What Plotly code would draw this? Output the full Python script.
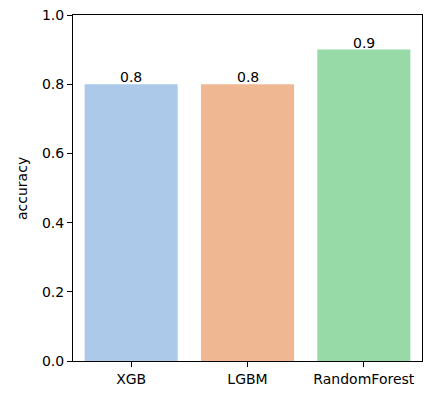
import plotly.graph_objects as go

models = ["XGB", "LGBM", "RandomForest"]
accuracy = [0.8, 0.8, 0.9]
colors = ["#acc9ea", "#efb792", "#98daa7"]
y_ticks = [0.0, 0.2, 0.4, 0.6, 0.8, 1.0]

W, H = 439, 396
ml, mr, mt, mb = 73, 17, 15, 35
font = "DejaVu Sans"

fig = go.Figure()
fig.add_trace(go.Bar(
    x=list(range(len(models))), y=accuracy,
    marker=dict(color=colors, line=dict(width=0)),
    width=0.8, showlegend=False, hoverinfo="skip",
))

annotations = []
for i, v in enumerate(accuracy):
    annotations.append(dict(
        x=i, y=v, xref="x", yref="y", text=str(v), showarrow=False,
        xanchor="center", yanchor="bottom", yshift=-3,
        font=dict(family=font, size=14, color="#000000"),
    ))
plot_w = W - ml - mr
annotations.append(dict(
    x=(22 - ml) / plot_w, y=0.5, xref="paper", yref="paper",
    text="accuracy", showarrow=False, textangle=-90,
    xanchor="center", yanchor="middle",
    font=dict(family=font, size=14, color="#000000"),
))

fig.update_layout(
    width=W, height=H, autosize=False,
    margin=dict(l=ml, r=mr, t=mt, b=mb, pad=0, autoexpand=False),
    paper_bgcolor="white", plot_bgcolor="white",
    font=dict(family=font, size=14, color="#000000"),
    annotations=annotations,
    bargap=0.2,
)
fig.update_xaxes(
    range=[-0.5, len(models) - 0.5], automargin=False,
    tickmode="array", tickvals=list(range(len(models))), ticktext=models,
    showline=True, linecolor="#000000", linewidth=1, mirror=True,
    ticks="outside", ticklen=5, tickwidth=1, tickcolor="#000000",
    showgrid=False, zeroline=False,
    tickfont=dict(family=font, size=14, color="#000000"),
)
fig.update_yaxes(
    range=[0, 1.0], automargin=False,
    tickmode="array", tickvals=y_ticks, ticktext=[f"{t:.1f}" for t in y_ticks],
    showline=True, linecolor="#000000", linewidth=1, mirror=True,
    ticks="outside", ticklen=5, tickwidth=1, tickcolor="#000000",
    showgrid=False, zeroline=False,
    tickfont=dict(family=font, size=14, color="#000000"),
)

fig.write_html(
    "out.html",
    config={"displayModeBar": False, "responsive": False},
    post_script=(
        "document.documentElement.style.margin='0';"
        "document.documentElement.style.overflow='hidden';"
        "document.body.style.margin='0';"
        "document.body.style.overflow='hidden';"
    ),
)
